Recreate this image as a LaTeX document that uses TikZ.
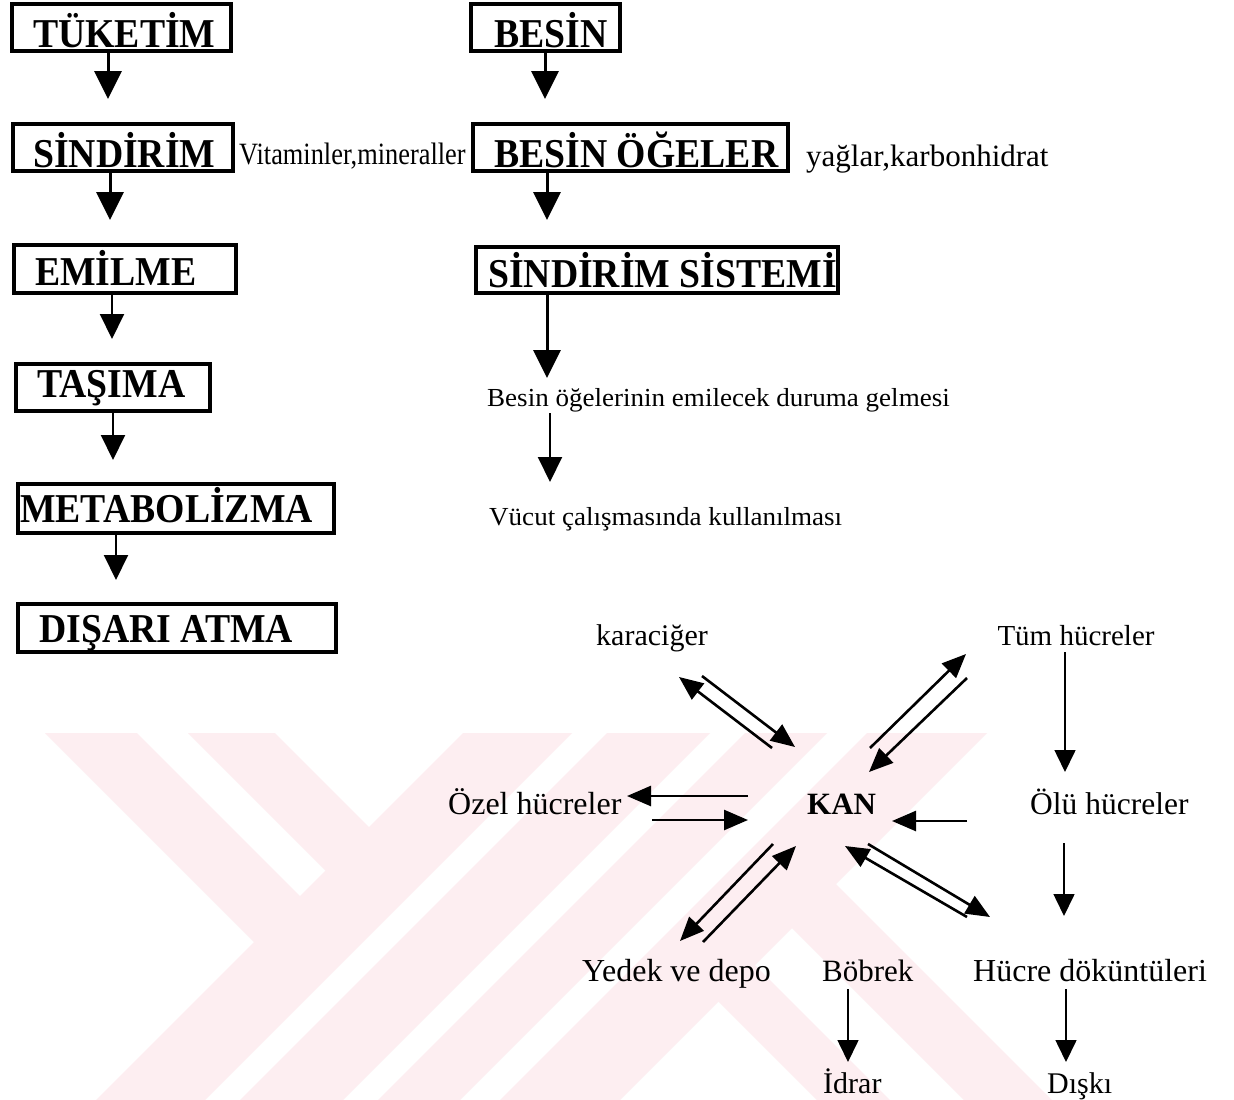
\documentclass[tikz,border=0pt]{standalone}
\usepackage{fontspec}
\setmainfont{Liberation Serif}
\newfontfamily\boxfont[FakeStretch=0.92]{Liberation Serif}
\newfontfamily\vitfont[FakeStretch=0.85]{Liberation Serif}
\newfontfamily\midfont[FakeStretch=1.04]{Liberation Serif}
\usetikzlibrary{arrows.meta}
\definecolor{wm}{RGB}{253,238,241}
\tikzset{
  box/.style={draw, line width=4.5pt, rectangle, inner sep=0pt, outer sep=0pt},
  btxt/.style={inner sep=0pt, anchor=base west, font=\boxfont\bfseries\fontsize{41}{41}\selectfont},
  vtxt/.style={inner sep=0pt, anchor=base west, font=\vitfont\fontsize{31}{31}\selectfont},
  mtxt/.style={inner sep=0pt, anchor=base west, font=\midfont\fontsize{26}{26}\selectfont},
  ntxt/.style={inner sep=0pt, anchor=base west, font=\fontsize{32}{32}\selectfont},
  bigarr/.style={line width=3pt, -{Triangle[width=27pt,length=28pt]}},
  medarr/.style={line width=2pt, -{Triangle[width=24pt,length=25pt]}},
  thinarr/.style={line width=1.6pt, -{Triangle[width=21pt,length=22pt]}},
  diagarr/.style={line width=2.6pt, -{Triangle[width=20pt,length=24pt]}},
  wmfill/.style={fill=wm, draw=none}
}
\begin{document}
\begin{tikzpicture}[x=1pt,y=-1pt]
\fill[white] (0,0) rectangle (1234,1100);
\useasboundingbox (0,0) rectangle (1234,1100);

% watermark
\begin{scope}
\clip (0,733) rectangle (1234,1100);
\path[wmfill] (45,733) -- (137,733) -- (317,913) -- (271,959) -- cycle;
\path[wmfill] (188,733) -- (275,733) -- (386,844) -- (342.5,887.5) -- cycle;
\path[wmfill] (463,733) -- (572,733) -- (205,1100) -- (96,1100) -- cycle;
\path[wmfill] (607,733) -- (710,733) -- (343,1100) -- (240,1100) -- cycle;
\path[wmfill] (745,733) -- (827,733) -- (460,1100) -- (378,1100) -- cycle;
\path[wmfill] (867,733) -- (987,733) -- (620,1100) -- (500,1100) -- cycle;
\path[wmfill] (708.5,991.5) -- (745,955) -- (890,1100) -- (817,1100) -- cycle;
\path[wmfill] (782,918) -- (826,874) -- (1052,1100) -- (964,1100) -- cycle;
\end{scope}

% left column
\node[box, minimum width=219pt, minimum height=47pt] (tuk) at (121.5,27.5) {};
\node[btxt] (tukT) at (33,47) {TÜKETİM};
\node[box, minimum width=220pt, minimum height=47pt] (sin) at (123,147.5) {};
\node[btxt] (sinT) at (33,167) {SİNDİRİM};
\node[box, minimum width=222pt, minimum height=48pt] (emi) at (125,269) {};
\node[btxt] (emiT) at (35,285) {EMİLME};
\node[box, minimum width=194pt, minimum height=47pt] (tas) at (113,387.5) {};
\node[btxt] (tasT) at (37,397) {TAŞIMA};
\node[box, minimum width=316pt, minimum height=49pt] (met) at (176,508.5) {};
\node[btxt] (metT) at (20,522) {METABOLİZMA};
\node[box, minimum width=318pt, minimum height=48pt] (dis) at (177,628) {};
\node[btxt] (disT) at (39,642) {DIŞARI ATMA};

\draw[bigarr] ([xshift=-13.5pt]tuk.south) -- ([xshift=-15pt,yshift=25pt]sin.north);
\draw[bigarr] ([xshift=-13pt]sin.south) -- ([xshift=-15pt,yshift=25pt]emi.north);
\draw[medarr] ([xshift=-13pt]emi.south) -- ([xshift=-1pt,yshift=25pt]tas.north);
\draw[medarr] ([xshift=0pt]tas.south) -- ([xshift=-63pt,yshift=24pt]met.north);
\draw[medarr] ([xshift=-60pt]met.south) -- ([xshift=-61pt,yshift=24pt]dis.north);

% right column
\node[vtxt] (vit) at (239,164) {Vitaminler,mineraller};
\node[box, minimum width=149pt, minimum height=47pt] (bes) at (545.5,27.5) {};
\node[btxt] (besT) at (494,47) {BESİN};
\node[box, minimum width=315pt, minimum height=47pt] (bog) at (630.5,147.5) {};
\node[btxt] (bogT) at (494,167) {BESİN ÖĞELER};
\node[ntxt, font=\fontsize{31}{31}\selectfont] (yag) at (806,166) {yağlar,karbonhidrat};
\node[box, minimum width=362pt, minimum height=46pt] (sis) at (657,270) {};
\node[btxt] (sisT) at (488,287) {SİNDİRİM SİSTEMİ};
\node[mtxt] (ogl) at (487,406) {Besin öğelerinin emilecek duruma gelmesi};
\node[mtxt] (vuc) at (489,525) {Vücut çalışmasında kullanılması};

\draw[bigarr] ([xshift=-0.5pt]bes.south) -- ([xshift=-85.5pt,yshift=25pt]bog.north);
\draw[bigarr] ([xshift=-83.5pt]bog.south) -- ([xshift=-110pt,yshift=27pt]sis.north);
\coordinate (o1) at (547,378);
\coordinate (v0) at (550,413);
\coordinate (v1) at (550,482);
\draw[bigarr] ([xshift=-110pt]sis.south) -- (o1);
\draw[medarr] (v0) -- (v1);

% network
\node[ntxt, anchor=base, font=\fontsize{30}{30}\selectfont] (kar) at (652,645) {karaciğer};
\node[ntxt, anchor=base, font=\fontsize{29}{29}\selectfont] (tum) at (1076,645) {Tüm hücreler};
\node[ntxt] (oze) at (448,814) {Özel hücreler};
\node[ntxt, font=\bfseries\fontsize{31}{31}\selectfont] (kan) at (807,814) {KAN};
\node[ntxt, font=\fontsize{31.5}{31.5}\selectfont] (olu) at (1030,814) {Ölü hücreler};
\node[ntxt] (yed) at (582,981) {Yedek ve depo};
\node[ntxt, font=\fontsize{31}{31}\selectfont] (bob) at (822,981) {Böbrek};
\node[ntxt] (huc) at (973,981) {Hücre döküntüleri};
\node[ntxt, font=\fontsize{30}{30}\selectfont] (idr) at (823,1093) {İdrar};
\node[ntxt, font=\fontsize{30}{30}\selectfont] (dis2) at (1047,1093) {Dışkı};

\coordinate (kl1s) at (772,748); \coordinate (kl1e) at (679,677);
\coordinate (kl2s) at (702,676); \coordinate (kl2e) at (795,747);
\coordinate (tm1s) at (870,748); \coordinate (tm1e) at (966,654);
\coordinate (tm2s) at (967,678); \coordinate (tm2e) at (869,772);
\coordinate (oz1s) at (748,796); \coordinate (oz1e) at (627,796);
\coordinate (oz2s) at (652,820); \coordinate (oz2e) at (748,820);
\coordinate (ol1s) at (967,821); \coordinate (ol1e) at (892,821);
\coordinate (yd1s) at (773,844); \coordinate (yd1e) at (680,941);
\coordinate (yd2s) at (703,942); \coordinate (yd2e) at (796,846);
\coordinate (hc1s) at (967,917); \coordinate (hc1e) at (845,846);
\coordinate (hc2s) at (868,844); \coordinate (hc2e) at (990,917);
\coordinate (tuS) at (1065,652); \coordinate (olN) at (1065,772);
\coordinate (olS) at (1064,843); \coordinate (hcN) at (1064,916);
\coordinate (boS) at (848,989); \coordinate (idN) at (848,1062);
\coordinate (huS) at (1066,989); \coordinate (diN) at (1066,1062);

\draw[diagarr] (kl1s) -- (kl1e);
\draw[diagarr] (kl2s) -- (kl2e);
\draw[diagarr] (tm1s) -- (tm1e);
\draw[diagarr] (tm2s) -- (tm2e);
\draw[diagarr] (oz1s) -- (oz1e);
\draw[diagarr] (oz2s) -- (oz2e);
\draw[diagarr] (ol1s) -- (ol1e);
\draw[diagarr] (yd1s) -- (yd1e);
\draw[diagarr] (yd2s) -- (yd2e);
\draw[diagarr] (hc1s) -- (hc1e);
\draw[diagarr] (hc2s) -- (hc2e);
\draw[thinarr] (tuS) -- (olN);
\draw[thinarr] (olS) -- (hcN);
\draw[thinarr] (boS) -- (idN);
\draw[thinarr] (huS) -- (diN);
\end{tikzpicture}
\end{document}
